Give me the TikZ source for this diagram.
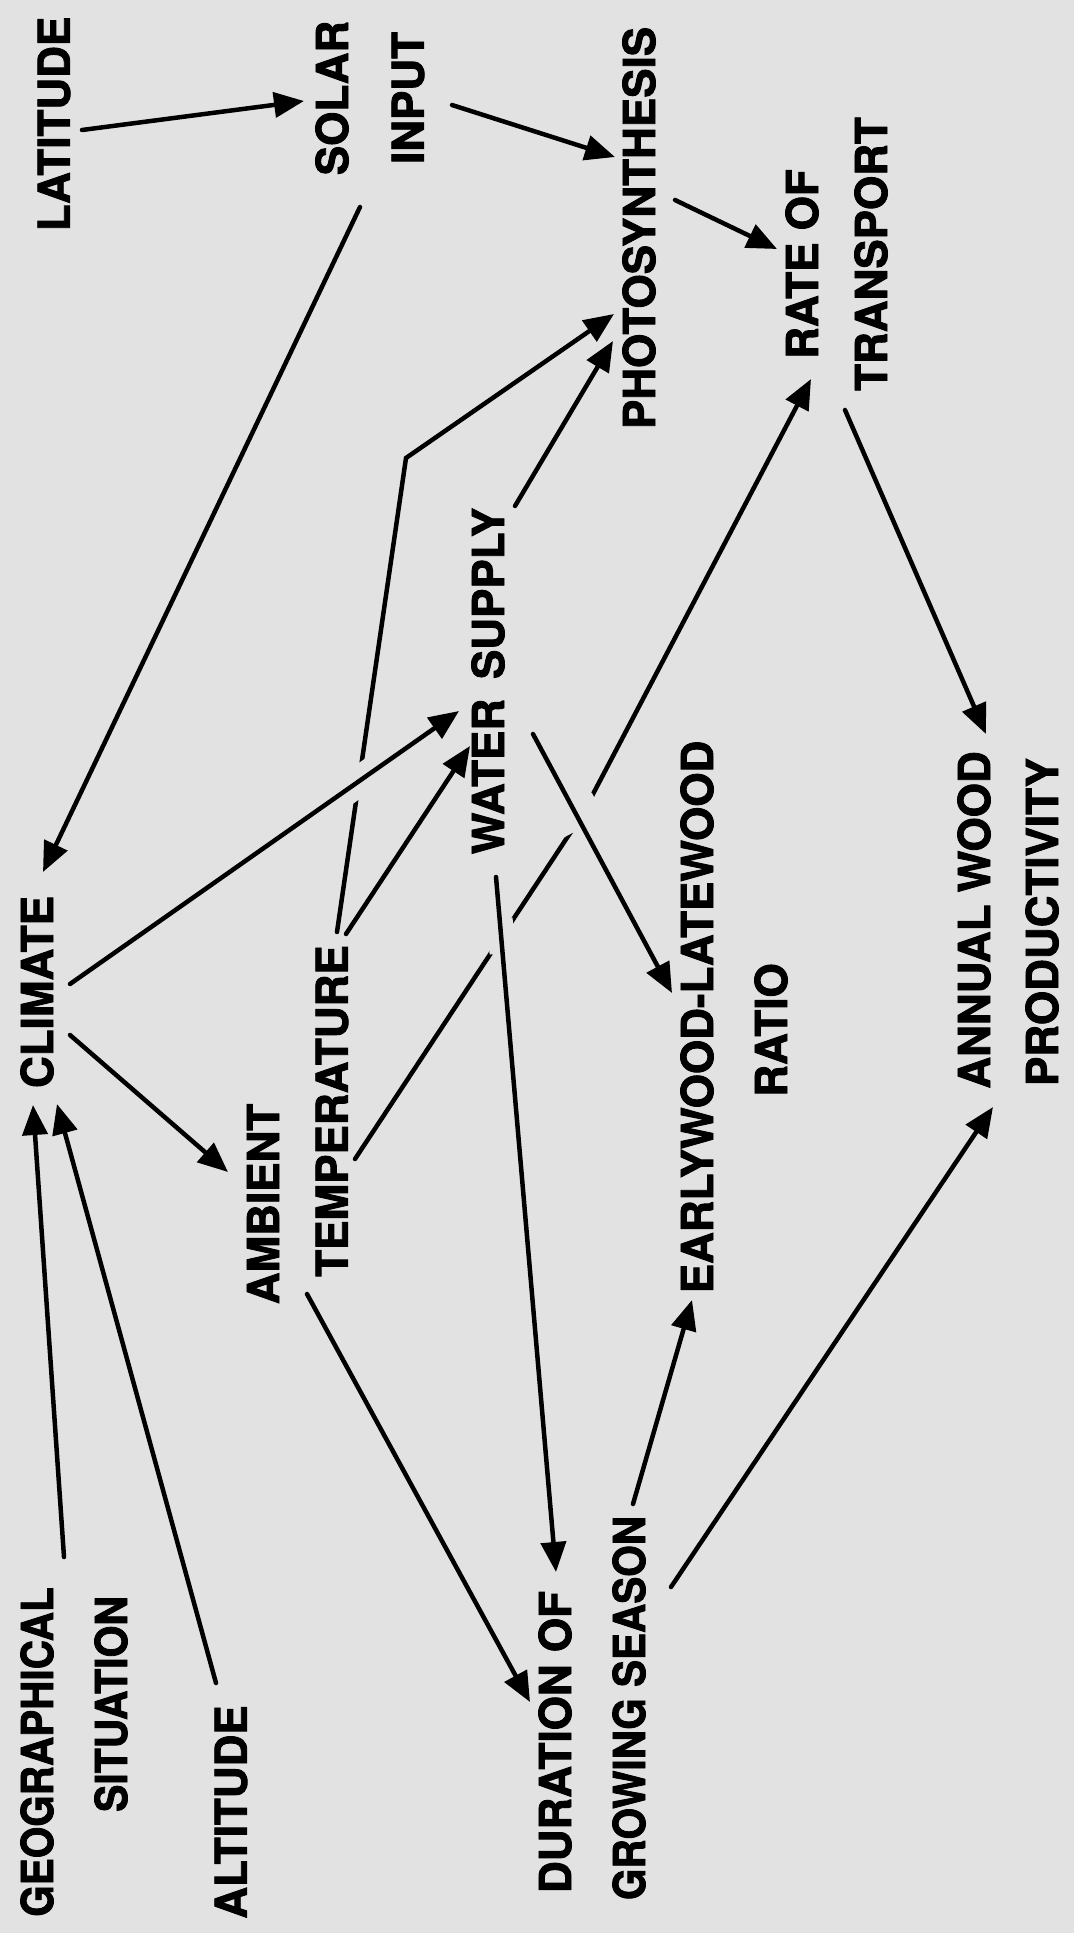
\documentclass[tikz,border=0pt]{standalone}
\usepackage{fontspec}
\setmainfont{TeX Gyre Heros}[BoldFeatures={FakeBold=2}]
\usetikzlibrary{arrows.meta,calc}
\definecolor{bg}{HTML}{E2E2E2}
\begin{document}
\begin{tikzpicture}[x=1pt,y=-1pt,
  lbl/.style={rotate=90,inner sep=0pt,font=\fontsize{44}{50}\selectfont\bfseries},
  link/.style={line width=4.5pt,line cap=round,-{Triangle[length=30pt,width=25pt]}},
  gap/.style={draw=bg,line width=#1}]
\fill[bg] (0,0) rectangle (1074,1933);
\useasboundingbox (0,0) rectangle (1074,1933);
% nodes
\node[lbl] (lat)  at (54,124)   {LATITUDE};
\node[lbl] (sol1) at (332,98)   {SOLAR};
\node[lbl] (sol2) at (408,98)   {INPUT};
\node[lbl] (pho)  at (639,228)  {PHOTOSYNTHESIS};
\node[lbl] (rat1) at (802,264)  {RATE OF};
\node[lbl] (rat2) at (871,254)  {TRANSPORT};
\node[lbl] (cli)  at (37,992)   {CLIMATE};
\node[lbl] (amb1) at (263,1204) {AMBIENT};
\node[lbl] (amb2) at (332,1111) {TEMPERATURE};
\node[lbl] (wat)  at (488,681)  {WATER\hspace{0.45em}SUPPLY};
\node[lbl] (ear1) at (697,1017) {EARLYWOOD-LATEWOOD};
\node[lbl] (ear2) at (771,1030) {RATIO};
\node[lbl] (ann1) at (974,920)  {ANNUAL WOOD};
\node[lbl] (ann2) at (1042,922) {PRODUCTIVITY};
\node[lbl] (geo1) at (37,1752)  {\scalebox{0.92}[1]{GEOGRAPHICAL}};
\node[lbl] (geo2) at (111,1704) {\scalebox{0.93}[1]{SITUATION}};
\node[lbl] (alt)  at (231,1812) {ALTITUDE};
\node[lbl] (dur1) at (555,1742) {DURATION OF};
\node[lbl] (dur2) at (629,1708) {\scalebox{0.92}[1]{GROWING SEASON}};
% bends and endpoints of crossing connectors
\coordinate (k5)  at (406,458);
\coordinate (k10) at (582,815);
\coordinate (c7a)  at ($(cli)+(33,-8)$);
\coordinate (c7b)  at ($(wat)+(-29,30)$);
\coordinate (c11a) at ($(wat)+(45,53)$);
\coordinate (c11b) at ($(ear1)+(-25,-24)$);
\coordinate (c12a) at ($(wat)+(8,196)$);
\coordinate (c12b) at ($(dur1)+(1,-170)$);
% lines that are broken by crossings
\draw[link] ($(amb2)+(5,-179)$) -- (k5) -- ($(pho)+(-25,86)$);
\draw[link] ($(amb2)+(23,48)$) -- (k10) -- ($(rat1)+(9,115)$);
\draw[gap=30pt] ($(c7a)!0.70!(c7b)$) -- ($(c7a)!0.785!(c7b)$);
\draw[gap=48pt] ($(c11a)!0.27!(c11b)$) -- ($(c11a)!0.36!(c11b)$);
\draw[gap=26pt] ($(c12a)!0.06!(c12b)$) -- ($(c12a)!0.11!(c12b)$);
% connectors
\draw[link] (c7a) -- (c7b);
\draw[link] (c11a) -- (c11b);
\draw[link] (c12a) -- (c12b);
\draw[link] ($(lat)+(28,6)$) -- ($(sol1)+(-28,3)$);
\draw[link] ($(sol2)+(44,7)$) -- ($(pho)+(-24,-71)$);
\draw[link] ($(pho)+(36,-28)$) -- ($(rat1)+(-25,-15)$);
\draw[link] ($(sol1)+(28,109)$) -- ($(cli)+(6,-120)$);
\draw[link] ($(wat)+(27,-175)$) -- ($(pho)+(-26,113)$);
\draw[link] ($(amb2)+(14,-177)$) -- ($(wat)+(-18,65)$);
\draw[link] ($(cli)+(33,43)$) -- ($(amb1)+(-35,-32)$);
\draw[link] ($(amb1)+(44,90)$) -- ($(dur1)+(-25,-40)$);
\draw[link] ($(geo1)+(27,-195)$) -- ($(cli)+(-4,113)$);
\draw[link] ($(alt)+(-15,-129)$) -- ($(cli)+(20,112)$);
\draw[link] ($(dur2)+(4,-204)$) -- ($(ear1)+(-5,283)$);
\draw[link] ($(dur2)+(42,-121)$) -- ($(ann1)+(19,187)$);
\draw[link] ($(rat2)+(-26,156)$) -- ($(ann1)+(12,-186)$);
\end{tikzpicture}
\end{document}
